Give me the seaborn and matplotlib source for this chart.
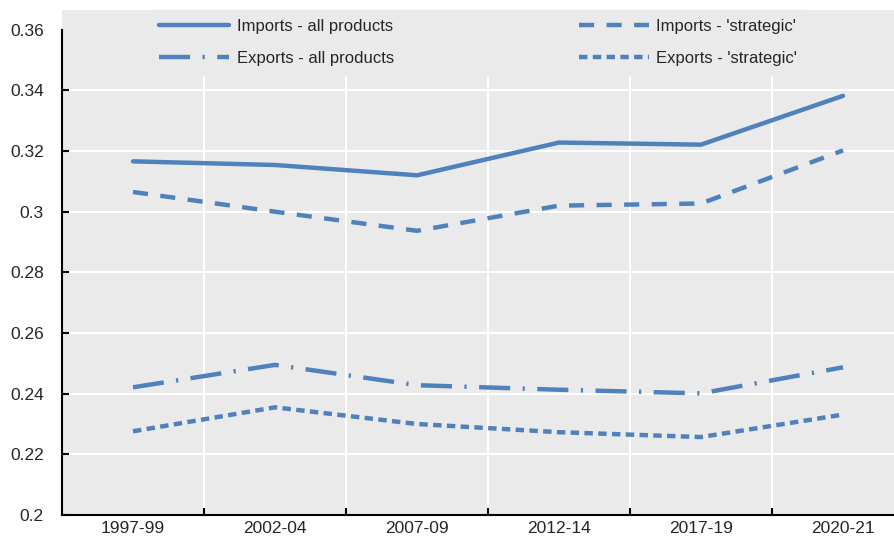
import pandas as pd
import matplotlib.pyplot as plt
import seaborn as sns

# valores
periods = ["1997-99", "2002-04", "2007-09", "2012-14", "2017-19", "2020-21"]
imports_all = [0.3166, 0.3154, 0.3120, 0.3228, 0.3221, 0.3382]
imports_strat = [0.3065, 0.3000, 0.2937, 0.3020, 0.3027, 0.3202]
exports_all = [0.2421, 0.2495, 0.2428, 0.2413, 0.2401, 0.2487]
exports_strat = [0.2276, 0.2355, 0.2300, 0.2273, 0.2257, 0.2331]

series_names = ["Imports - all products", "Exports - all products",
                "Imports - 'strategic'", "Exports - 'strategic'"]
y_ticks = [0.2, 0.22, 0.24, 0.26, 0.28, 0.3, 0.32, 0.34, 0.36]
y_labels = ["0.2", "0.22", "0.24", "0.26", "0.28", "0.3", "0.32", "0.34", "0.36"]

df = pd.DataFrame({
    "periodo": periods * 4,
    "valor": imports_all + exports_all + imports_strat + exports_strat,
    "serie": [s for s in series_names for _ in periods],
})

azul = "#4F81BD"
cinza = "#EAEAEA"

sns.set_style("white")
plt.rcParams["font.family"] = ["Liberation Sans Narrow", "Liberation Sans", "DejaVu Sans"]

fig = plt.figure(figsize=(8.94, 5.37), dpi=100)
ax = fig.add_axes([62 / 894, 22 / 537, 852 / 894, 505 / 537])
ax.set_facecolor(cinza)

estilos = {
    "Imports - all products": "",
    "Exports - all products": (7, 2.8, 0.5, 2.8),
    "Imports - 'strategic'": (3.4, 2.8),
    "Exports - 'strategic'": (1.9, 1.2),
}
sns.lineplot(data=df, x="periodo", y="valor", style="serie", style_order=series_names,
             hue="serie", hue_order=series_names, palette=[azul] * 4,
             dashes=estilos, linewidth=3.2, ax=ax, sort=False)

ax.set_xlim(-0.5, 5.5)
ax.set_ylim(0.2, 0.3665)
ax.set_xlabel("")
ax.set_ylabel("")

ax.set_yticks(y_ticks)
ax.set_yticklabels(y_labels, fontsize=12.5)
ax.set_xticks(range(len(periods)))
ax.set_xticklabels(periods, fontsize=12.5)
ax.set_xticks([i + 0.5 for i in range(len(periods) - 1)], minor=True)

ax.tick_params(axis="y", direction="in", length=5, width=1.5, color="black", pad=13, left=True)
ax.tick_params(axis="x", which="major", length=0, pad=4)
ax.tick_params(axis="x", which="minor", direction="in", length=5, width=1.5, color="black", bottom=True)
ax.yaxis.get_major_ticks()[-1].tick1line.set_visible(False)

ax.grid(axis="y", which="major", color="white", linewidth=1.5)
ax.grid(axis="x", which="minor", color="white", linewidth=1.5)
ax.grid(axis="x", which="major", visible=False)
ax.get_ygridlines()[-1].set_visible(False)
ax.set_axisbelow(True)

for lado in ["top", "right"]:
    ax.spines[lado].set_visible(False)
ax.spines["left"].set_bounds(0.2, 0.36)
ax.spines["left"].set_linewidth(1.5)
ax.spines["bottom"].set_linewidth(1.5)
ax.spines["left"].set_color("black")
ax.spines["bottom"].set_color("black")

leg = ax.legend(ncol=2, loc="upper left", bbox_to_anchor=(88 / 852, 1.0), fontsize=12,
                frameon=True, facecolor=cinza, edgecolor=cinza, framealpha=1,
                handlelength=4.2, handletextpad=0.45, columnspacing=11.1,
                labelspacing=1.0, borderpad=0.55, borderaxespad=0)

fig.savefig("out.png", dpi=100)
